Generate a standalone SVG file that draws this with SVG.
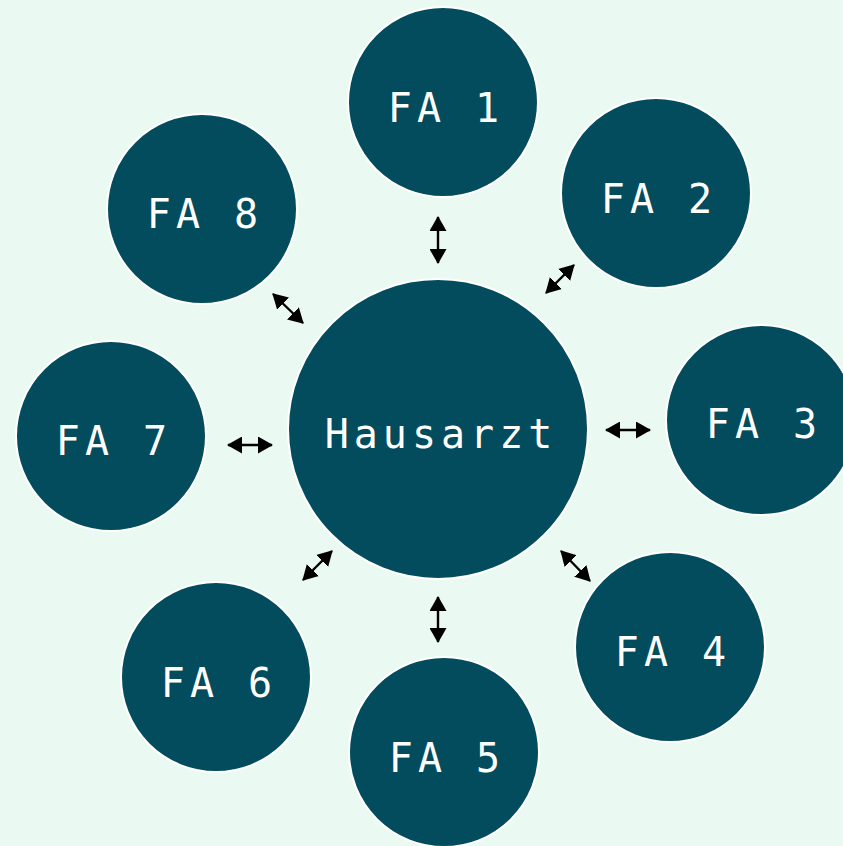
<svg xmlns="http://www.w3.org/2000/svg" width="843" height="846" viewBox="0 0 843 846">
<style>
.node circle{fill:#024c5e;stroke:#ffffff;stroke-width:2}
.node text{fill:#ffffff;font-family:"DejaVu Sans Mono","Liberation Mono",monospace;font-size:40px;letter-spacing:5px;text-anchor:middle}
.conn line{stroke:#000000;stroke-width:2.4;marker-start:url(#ah);marker-end:url(#ah)}
</style>
<defs>
<marker id="ah" markerUnits="userSpaceOnUse" markerWidth="15" markerHeight="17" refX="14" refY="8.5" orient="auto-start-reverse" viewBox="0 0 15 17">
<path d="M0,0 L15,8.5 L0,17 Z" fill="#000000"/>
</marker>
</defs>
<rect width="843" height="846" fill="#eafaf3"/>
<g id="connectors" class="conn">
<line x1="438" y1="217" x2="438" y2="263"/>
<line x1="546" y1="293" x2="574" y2="265"/>
<line x1="606" y1="430" x2="650" y2="430"/>
<line x1="561" y1="551" x2="590" y2="581"/>
<line x1="438" y1="597" x2="438" y2="642"/>
<line x1="303" y1="580" x2="332" y2="551"/>
<line x1="228" y1="445" x2="272" y2="445"/>
<line x1="273" y1="294" x2="303" y2="323"/>
</g>
<g id="hausarzt" class="node"><circle cx="438" cy="429" r="150"/><text x="441" y="448">Hausarzt</text></g>
<g id="fa1" class="node"><circle cx="443" cy="102" r="95"/><text x="446" y="122">FA 1</text></g>
<g id="fa2" class="node"><circle cx="656" cy="193" r="95"/><text x="659" y="213">FA 2</text></g>
<g id="fa3" class="node"><circle cx="761" cy="420" r="95"/><text x="764" y="438">FA 3</text></g>
<g id="fa4" class="node"><circle cx="670" cy="647" r="95"/><text x="673" y="666">FA 4</text></g>
<g id="fa5" class="node"><circle cx="444" cy="752" r="95"/><text x="447" y="772">FA 5</text></g>
<g id="fa6" class="node"><circle cx="216" cy="677" r="95"/><text x="219" y="697">FA 6</text></g>
<g id="fa7" class="node"><circle cx="111" cy="436" r="95"/><text x="114" y="455">FA 7</text></g>
<g id="fa8" class="node"><circle cx="202" cy="209" r="95"/><text x="205" y="228">FA 8</text></g>
</svg>
